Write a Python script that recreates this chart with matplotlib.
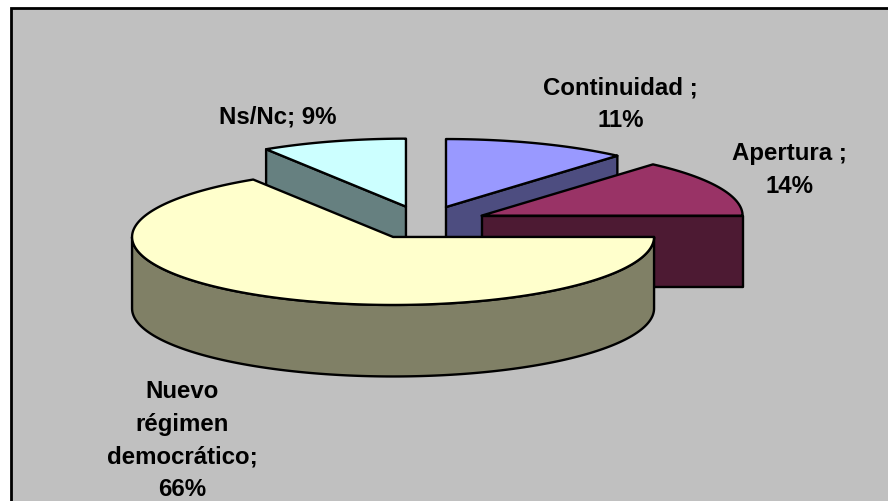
import numpy as np
import matplotlib
matplotlib.use("Agg")
import matplotlib.pyplot as plt
from matplotlib.patches import Polygon, Rectangle

categories = ["Continuidad", "Apertura", "Nuevo régimen democrático", "Ns/Nc"]
values = [11.4, 13.6, 66, 9]
top_colors = ["#9999FF", "#993366", "#FFFFCC", "#CCFFFF"]
side_colors = ["#4D4D80", "#4D1A33", "#808066", "#668080"]
labels = ["Continuidad ;\n11%", "Apertura ;\n14%", "Nuevo\nrégimen\ndemocrático;\n66%", "Ns/Nc; 9%"]
label_pos = [(620.5, 104), (789, 170), (182, 440.5), (277.5, 116.5)]

CX, CY = 423.7, 222.5
RX, RY = 261.0, 68.0
EX, EY = 63.6, 16.5
DEPTH = 71.5
LW = 1.7

plt.rcParams["font.family"] = ["Liberation Sans", "DejaVu Sans"]
fig = plt.figure(figsize=(8.88, 5.01), dpi=100, facecolor="white")
ax = fig.add_axes([0, 0, 1, 1])
ax.set_xlim(0, 888)
ax.set_ylim(501, 0)
ax.axis("off")

ax.add_patch(Rectangle((11, 8), 900, 520, facecolor="#C0C0C0", edgecolor="black", lw=2.0, zorder=0))


def pt(c, theta):
    return (c[0] + RX * np.sin(theta), c[1] - RY * np.cos(theta))


def draw_slice(a0, a1, top, side, z):
    mid = (a0 + a1) / 2
    c = (CX + EX * np.sin(mid), CY - EY * np.cos(mid))
    kw = dict(edgecolor="black", lw=LW, joinstyle="round", zorder=z)
    # radial cut faces that look towards the viewer
    for th, vis in ((a0, np.sin(a0) < -1e-9), (a1, np.sin(a1) > 1e-9)):
        if vis:
            p = pt(c, th)
            ax.add_patch(Polygon([c, p, (p[0], p[1] + DEPTH), (c[0], c[1] + DEPTH)],
                                 facecolor=side, **kw))
    # curved outer wall, front half only
    lo, hi = max(a0, np.pi / 2), min(a1, 3 * np.pi / 2)
    if lo < hi:
        t = np.linspace(lo, hi, 200)
        upper = [pt(c, x) for x in t]
        lower = [(x, y + DEPTH) for x, y in upper[::-1]]
        ax.add_patch(Polygon(upper + lower, facecolor=side, **kw))
    # top surface
    t = np.linspace(a0, a1, 200)
    ax.add_patch(Polygon([c] + [pt(c, x) for x in t], facecolor=top, **kw))


edges = np.cumsum([0] + values) / sum(values) * 2 * np.pi
order = [3, 0, 1, 2]
for z, i in enumerate(order, start=2):
    draw_slice(edges[i], edges[i + 1], top_colors[i], side_colors[i], z)

for s, (x, y) in zip(labels, label_pos):
    ax.text(x, y, s, ha="center", va="center", multialignment="center",
            fontsize=17.3, fontweight="bold", color="black", linespacing=1.53, zorder=10)

fig.savefig("out.png", dpi=100, facecolor="white")
